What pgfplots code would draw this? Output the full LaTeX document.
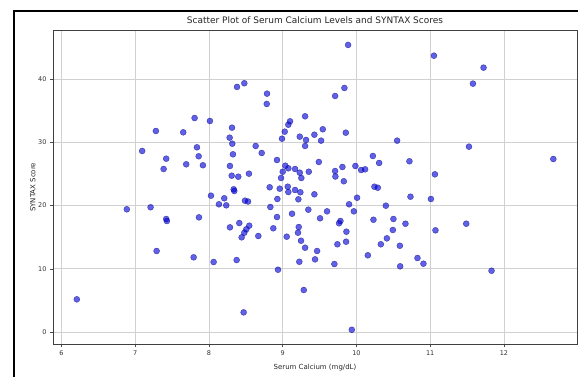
\documentclass[border=0pt]{standalone}
\usepackage{fontspec}
\setmainfont{DejaVu Sans}
\usepackage{pgfplots}
\pgfplotsset{compat=1.18}
\begin{document}
\begin{tikzpicture}
\useasboundingbox (0,0) rectangle (578bp,377bp);
\draw[black, line width=1.2bp] (14bp,0) -- (14bp,366bp) -- (578bp,366bp);
\begin{axis}[
  at={(53bp,33bp)}, anchor=south west,
  scale only axis, width=524bp, height=313.3bp,
  xmin=5.885, xmax=12.99, ymin=-1.89, ymax=47.63,
  xtick={6,7,8,9,10,11,12}, ytick={0,10,20,30,40},
  tick align=outside, tick pos=left,
  major tick length=3bp,
  every tick/.style={black!70, line width=0.5bp},
  grid=major, grid style={black!18, line width=0.6bp},
  axis line style={black!75, line width=0.6bp},
  /pgf/number format/assume math mode=true,
  ticklabel style={font=\fontsize{6.5}{7}\selectfont, text=black!80},
  title={Scatter Plot of Serum Calcium Levels and SYNTAX Scores},
  title style={font=\fontsize{9}{10}\selectfont, text=black!85, yshift=-2bp},
  xlabel={Serum Calcium (mg/dL)}, ylabel={SYNTAX Score},
  label style={font=\fontsize{7}{8}\selectfont, text=black!85},
  xlabel style={yshift=-2bp}, ylabel style={yshift=-4bp},
]
\addplot[only marks, mark=*, mark size=3bp,
  mark options={fill=blue!85!black, draw=blue!50!black, line width=0.4bp, fill opacity=0.62, draw opacity=0.62}]
coordinates {
(7.280,31.78) (7.651,31.57) (7.805,33.83) (8.013,33.36) (7.094,28.62)
(7.837,29.20) (7.420,27.40) (7.860,27.78) (7.385,25.77) (7.691,26.51)
(7.918,26.36) (8.027,21.55) (8.135,20.19) (6.886,19.40) (7.208,19.72)
(7.420,17.87) (7.429,17.55) (7.864,18.13) (7.290,12.81) (7.792,11.81)
(8.063,11.07) (6.208,5.17) (9.886,45.38) (8.380,38.74) (8.479,39.32)
(8.787,37.68) (8.783,36.05) (9.710,37.31) (9.836,38.58) (9.303,34.10)
(9.099,33.31) (9.076,32.77) (8.312,32.30) (9.543,32.05) (9.855,31.51)
(9.027,31.67) (8.280,30.72) (8.316,29.77) (9.231,30.88) (9.429,31.19)
(9.316,30.36) (9.303,29.41) (9.520,30.25) (8.990,30.56) (8.633,29.41)
(8.715,28.30) (8.325,28.09) (8.284,26.25) (8.922,27.19) (9.035,26.29)
(9.076,25.88) (9.167,25.77) (9.000,25.34) (9.231,25.19) (9.252,24.35)
(8.977,24.35) (9.489,26.88) (9.353,25.34) (8.308,24.71) (8.397,24.55)
(8.542,25.03) (9.710,25.45) (9.714,24.58) (9.809,26.09) (9.828,23.83)
(9.985,26.25) (10.063,25.61) (10.117,25.72) (10.222,27.83) (10.307,26.72)
(10.243,22.97) (10.289,22.81) (8.823,22.88) (8.959,22.66) (9.068,22.97)
(8.335,22.56) (8.207,21.14) (8.343,22.29) (8.234,20.03) (8.488,20.76)
(8.529,20.63) (9.076,22.13) (9.167,22.45) (9.239,22.09) (9.212,20.98)
(8.927,21.03) (9.429,21.77) (10.008,21.23) (8.832,19.76) (8.922,18.18)
(9.126,18.70) (9.347,19.34) (9.601,19.08) (9.506,17.98) (9.900,20.19)
(9.964,19.08) (9.782,17.55) (9.764,17.19) (10.230,17.75) (8.284,16.55)
(8.411,17.23) (8.546,16.81) (8.506,16.24) (8.479,15.70) (8.443,14.97)
(8.669,15.18) (8.872,16.40) (9.054,15.07) (9.217,16.60) (9.207,15.70)
(9.248,14.43) (9.303,13.33) (9.863,15.86) (9.859,14.28) (9.741,13.87)
(9.466,12.81) (9.438,11.49) (9.225,11.11) (9.700,10.75) (10.154,12.13)
(8.375,11.38) (8.936,9.85) (9.285,6.64) (8.470,3.11) (9.936,0.36)
(11.050,43.68) (11.723,41.79) (11.579,39.26) (10.551,30.25) (11.525,29.30)
(12.669,27.35) (10.718,26.99) (11.063,24.93) (10.732,21.39) (11.009,21.03)
(10.398,19.97) (10.501,17.87) (10.664,17.12) (11.488,17.12) (10.493,16.13)
(11.071,16.08) (10.412,14.81) (10.330,13.87) (10.588,13.64) (10.827,11.70)
(10.908,10.80) (10.592,10.39) (11.831,9.69)
};
\end{axis}
\end{tikzpicture}
\end{document}
